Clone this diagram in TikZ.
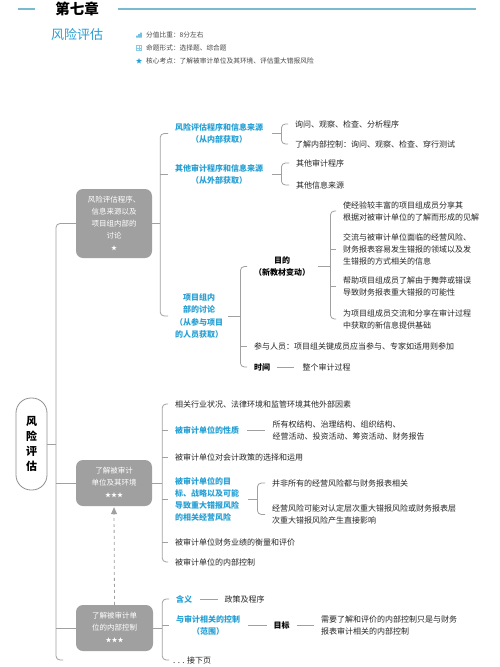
\documentclass[tikz,border=0pt]{standalone}
\usepackage{xcolor}
\usepackage{fontspec}
\setmainfont{Noto Sans CJK SC}
\usepackage{tikz}
\usetikzlibrary{arrows.meta,positioning,calc,shapes.geometric}
\definecolor{KeyBlue}{RGB}{38,160,212}
\definecolor{LinkGray}{RGB}{160,160,160}
\definecolor{BoxGray}{RGB}{160,160,160}
\definecolor{InkDark}{RGB}{38,38,38}
\definecolor{HeadTeal}{RGB}{122,186,206}

\begin{document}
\begin{tikzpicture}[x=1pt, y=-1pt,
    headline/.style = {draw=HeadTeal, line width=2pt},
    legend/.style   = {anchor=west, inner xsep=0pt, inner ysep=1pt,
                       text=InkDark!85, font=\fontsize{6.7}{8}\selectfont},
    rootbox/.style  = {rectangle, rounded corners=15pt,
                       draw=LinkGray!90!black, fill=white, line width=0.8pt,
                       minimum width=31pt, minimum height=92pt, inner sep=0pt,
                       font=\bfseries\fontsize{11}{15}\selectfont, align=center},
    topic/.style    = {rectangle, rounded corners=7pt,
                       fill=BoxGray, text=white,
                       minimum width=76pt, minimum height=46pt, inner sep=0pt,
                       font=\fontsize{7.5}{12}\selectfont, align=center},
    leaf/.style     = {anchor=west, inner xsep=0pt, inner ysep=1pt,
                       text=InkDark, font=\fontsize{8}{12}\selectfont,
                       align=left},
    key/.style      = {leaf, text=KeyBlue,
                       font=\bfseries\fontsize{8}{12}\selectfont},
    keyc/.style     = {key, align=center,
                       font=\bfseries\fontsize{8}{12.5}\selectfont},
    tag/.style      = {leaf, text=black,
                       font=\bfseries\fontsize{8}{12.5}\selectfont,
                       align=center},
    link/.style     = {draw=LinkGray, line width=0.8pt, rounded corners=4pt},
    back/.style     = {draw=LinkGray, line width=0.8pt, dashed,
                       -{Triangle[length=7pt,width=6pt]}, shorten >=1pt},
]
\fill[white] (0,0) rectangle (500,667);
\useasboundingbox (0,0) rectangle (500,667);

% ─── Chapter header ──────────────────────────────────────────────────────
\draw[headline] (18,9) -- (35,9);
\node[font=\bfseries\fontsize{14.5}{15}\selectfont] (chap) at (77,9) {第七章};
\draw[headline] (118,9) -- (476,9);

\node[text=KeyBlue, font=\fontsize{13}{14}\selectfont] (title) at (77,35)
    {风险评估};

% legend with its little icons
\node[legend] (lg1) at (146,35) {分值比重：8分左右};
\node[legend] (lg2) at (146,48) {命题形式：选择题、综合题};
\node[legend] (lg3) at (146,61) {核心考点：了解被审计单位及其环境、评估重大错报风险};

\fill[KeyBlue] (136.3,37.5) rectangle ++(1.4,-2)
               (138.3,37.5) rectangle ++(1.4,-3.5)
               (140.3,37.5) rectangle ++(1.4,-5);
\draw[KeyBlue!55, line width=0.5pt] (136.3,45.5) rectangle (141.7,50.5)
    (139,45.5) -- (139,50.5) (136.3,48) -- (141.7,48);
\node[star, star points=5, star point ratio=2.3, fill=KeyBlue,
      inner sep=0pt, minimum size=6pt] (lg3_icon) at (139,61) {};

% ─── Root and its trunk ──────────────────────────────────────────────────
\node[rootbox] (root) at (31.5,444) {风\\险\\评\\估};

\node[topic, minimum height=69pt] (p1) at (114,223.5)
    {风险评估程序、\\信息来源以及\\项目组内部的\\讨论\\{\fontsize{6}{12}\selectfont ★}};
\node[topic] (p2) at (114,483)
    {了解被审计\\单位及其环境\\{\fontsize{6}{12}\selectfont ★★★}};
\node[topic, minimum width=77pt] (p3) at (114.5,628)
    {了解被审计单\\位的内部控制\\{\fontsize{6}{12}\selectfont ★★★}};

\coordinate (tk) at (56,660);
\draw[link] (p1.west) -| (tk) -- ++(7,0);
\draw[link] (root.east) -- (root.east -| tk);
\draw[link] (tk |- p2.west) -- (p2.west);
\draw[link] (tk |- p3.west) -- (p3.west);

\draw[back] (p3.north) -- (p2.south);

% ─── Branch 1: procedures, sources, team discussion ──────────────────────
\node[keyc] (p1_in)   at (175,133.5) {风险评估程序和信息来源\\（从内部获取）};
\node[keyc] (p1_out)  at (175,174.5) {其他审计程序和信息来源\\（从外部获取）};
\node[keyc] (p1_team) at (175,316)
    {项目组内\\部的讨论\\（从参与项目\\的人员获取）};

\draw[link] (p1.east) -- ++(8,0) coordinate (j1);
\draw[link] ([xshift=-7pt]p1_in.west) -| (j1) |- ([xshift=-7pt]p1_team.west);
\draw[link] (j1 |- p1_out.west) -- ([xshift=-7pt]p1_out.west);

\node[leaf] (p1_in_a) at (295,124) {询问、观察、检查、分析程序};
\node[leaf] (p1_in_b) at (295,144) {了解内部控制：询问、观察、检查、穿行测试};
\draw[link] ([xshift=9pt]p1_in.east) -- ++(9,0) coordinate (j1_in);
\draw[link] ([xshift=-7pt]p1_in_a.west) -| (j1_in) |- ([xshift=-7pt]p1_in_b.west);

\node[leaf] (p1_out_a) at (296,163) {其他审计程序};
\node[leaf] (p1_out_b) at (296,185) {其他信息来源};
\draw[link] ([xshift=9pt]p1_out.east) -- ++(9,0) coordinate (j1_out);
\draw[link] ([xshift=-7pt]p1_out_a.west) -| (j1_out) |- ([xshift=-7pt]p1_out_b.west);

% team discussion
\node[tag]  (goal) at (254,266.5) {目的\\（新教材变动）};
\node[leaf] (who)  at (254,346) {参与人员：项目组关键成员应当参与、专家如适用则参加};
\node[tag]  (when) at (254,367) {时间};
\node[leaf, right=32pt of when] (when_v) {整个审计过程};
\draw[link] ([xshift=7pt]when.east) -- ([xshift=-8pt]when_v.west);

\draw[link] ([xshift=5pt]p1_team.east) -- ++(12,0) coordinate (j1_team);
\draw[link] ([xshift=-7pt]goal.west) -| (j1_team) |- ([xshift=-7pt]when.west);
\draw[link] (j1_team |- who.west) -- ([xshift=-7pt]who.west);

\node[leaf] (goal_a) at (343,211)
    {使经验较丰富的项目组成员分享其\\根据对被审计单位的了解而形成的见解};
\node[leaf] (goal_b) at (343,249.5)
    {交流与被审计单位面临的经营风险、\\财务报表容易发生错报的领域以及发\\生错报的方式相关的信息};
\node[leaf] (goal_c) at (343,286.5)
    {帮助项目组成员了解由于舞弊或错误\\导致财务报表重大错报的可能性};
\node[leaf] (goal_d) at (343,319)
    {为项目组成员交流和分享在审计过程\\中获取的新信息提供基础};

\draw[link] ([xshift=8pt]goal.east) -- ++(12,0) coordinate (j_goal);
\draw[link] ([xshift=-7pt]goal_a.west) -| (j_goal) |- ([xshift=-7pt]goal_d.west);
\foreach \n in {goal_b,goal_c}
    \draw[link] (j_goal |- \n.west) -- ([xshift=-7pt]\n.west);

% ─── Branch 2: the entity and its environment ────────────────────────────
\node[leaf] (p2_a) at (175,404) {相关行业状况、法律环境和监管环境其他外部因素};
\node[key]  (p2_b) at (175,430) {被审计单位的性质};
\node[leaf, right=33pt of p2_b] (p2_b_v)
    {所有权结构、治理结构、组织结构、\\经营活动、投资活动、筹资活动、财务报告};
\draw[link] ([xshift=8pt]p2_b.east) -- ([xshift=-7pt]p2_b_v.west);
\node[leaf] (p2_c) at (175,457) {被审计单位对会计政策的选择和运用};
\node[key]  (p2_d) at (175,499)
    {被审计单位的目\\标、战略以及可能\\导致重大错报风险\\的相关经营风险};
\node[leaf] (p2_e) at (175,542) {被审计单位财务业绩的衡量和评价};
\node[leaf] (p2_f) at (175,562) {被审计单位的内部控制};

\draw[link] (p2.east) -- ++(10,0) coordinate (j2);
\draw[link] ([xshift=-7pt]p2_a.west) -| (j2) |- ([xshift=-7pt]p2_f.west);
\foreach \n in {p2_b,p2_c,p2_d,p2_e}
    \draw[link] (j2 |- \n.west) -- ([xshift=-7pt]\n.west);

\node[leaf] (p2_d_a) at (272,483) {并非所有的经营风险都与财务报表相关};
\node[leaf] (p2_d_b) at (272,514.5)
    {经营风险可能对认定层次重大错报风险或财务报表层\\次重大错报风险产生直接影响};
\draw[link] ([xshift=9pt]p2_d.east) -- ++(9,0) coordinate (j2_d);
\draw[link] ([xshift=-7pt]p2_d_a.west) -| (j2_d) |- ([xshift=-7pt]p2_d_b.west);

% ─── Branch 3: internal control ──────────────────────────────────────────
\node[key]  (p3_a) at (176,599) {含义};
\node[leaf, right=32pt of p3_a] (p3_a_v) {政策及程序};
\draw[link] ([xshift=8pt]p3_a.east) -- ([xshift=-6pt]p3_a_v.west);

\node[keyc] (p3_b) at (176,625.5) {与审计相关的控制\\（范围）};
\node[tag, right=33pt of p3_b] (p3_b_k) {目标};
\node[leaf, right=31pt of p3_b_k] (p3_b_v)
    {需要了解和评价的内部控制只是与财务\\报表审计相关的内部控制};
\draw[link] ([xshift=8pt]p3_b.east) -- ([xshift=-6pt]p3_b_k.west);
\draw[link] ([xshift=7pt]p3_b_k.east) -- ([xshift=-7pt]p3_b_v.west);

\node[leaf] (p3_more) at (173,660) {. . . 接下页};

\draw[link] (p3.east) -- ++(9,0) coordinate (j3);
\draw[link] ([xshift=-7pt]p3_a.west) -| (j3) |- ([xshift=-4pt]p3_more.west);
\draw[link] (j3 |- p3_b.west) -- ([xshift=-7pt]p3_b.west);

\end{tikzpicture}
\end{document}
